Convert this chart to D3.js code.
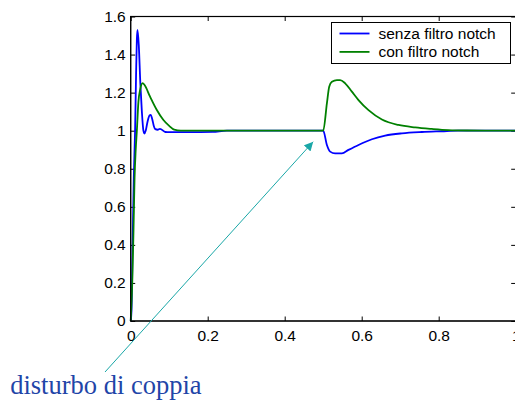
<!DOCTYPE html>
<html>
<head>
<meta charset="utf-8">
<script src="https://cdn.jsdelivr.net/npm/d3@7"></script>
<style>
  body { margin: 0; background: #fff; }
  svg { display: block; }
</style>
</head>
<body>
<div id="chart"></div>
<script>
// step response, senza filtro notch (blue)
const senzaT = [0, 0.002, 0.005, 0.008, 0.0114, 0.014, 0.016, 0.0177, 0.021, 0.025, 0.029, 0.033, 0.0357, 0.039, 0.044, 0.049, 0.052, 0.056, 0.06, 0.064, 0.07, 0.076, 0.09, 0.1, 0.15, 0.213, 0.25, 0.4, 0.5, 0.5096, 0.518, 0.531, 0.5486, 0.5657, 0.5917, 0.6265, 0.661, 0.7044, 0.7564, 0.808, 0.85, 1.0];
const senzaY = [0, 0.05, 0.4, 0.75, 1.0, 1.3, 1.48, 1.53, 1.45, 1.25, 1.1, 1.0, 0.985, 1.0, 1.05, 1.08, 1.083, 1.06, 1.025, 1.008, 1.005, 1.01, 0.993, 0.992, 0.992, 0.994, 1.0, 1.0, 1.0, 0.925, 0.89, 0.881, 0.881, 0.899, 0.925, 0.955, 0.974, 0.986, 0.993, 0.997, 1.0, 1.0];

// step response, con filtro notch (green)
const conT = [0, 0.004, 0.007, 0.01, 0.013, 0.016, 0.02, 0.025, 0.031, 0.036, 0.05, 0.0675, 0.085, 0.1, 0.113, 0.13, 0.2, 0.5, 0.5096, 0.5156, 0.5226, 0.5356, 0.544, 0.557, 0.5745, 0.5917, 0.6177, 0.6525, 0.6956, 0.739, 0.782, 0.825, 0.873, 1.0];
const conY = [0, 0.2, 0.45, 0.75, 0.9, 1.0, 1.15, 1.22, 1.25, 1.24, 1.18, 1.11, 1.056, 1.025, 1.005, 1.0, 1.0, 1.0, 1.144, 1.231, 1.257, 1.266, 1.266, 1.249, 1.205, 1.161, 1.108, 1.059, 1.03, 1.017, 1.009, 1.003, 1.001, 1.0];

const xTicks = [0, 0.2, 0.4, 0.6, 0.8, 1];
const yTicks = [0, 0.2, 0.4, 0.6, 0.8, 1, 1.2, 1.4, 1.6];
const seriesNames = ['senza filtro notch', 'con filtro notch'];
const seriesColors = ['#0000ff', '#008000'];

// annotation: arrow from label to the torque disturbance at t = 0.5
const noteText = 'disturbo di coppia';
const noteTail = [-0.0667, -0.268];
const noteTip = [0.474, 0.942];
const noteTextAt = [-0.313, -0.384];

const W = 515, H = 403;
const svg = d3.select('#chart').append('svg').attr('width', W).attr('height', H);

const x = d3.scaleLinear().domain([0, 1]).range([130.7, 515.7]);
const y = d3.scaleLinear().domain([0, 1.6]).range([321, 16.5]);

const fmt = d => String(+d.toFixed(1));
const font = 'Liberation Sans, Arial, sans-serif';

// box
svg.append('rect')
    .attr('x', x(0)).attr('y', y(1.6))
    .attr('width', x(1) - x(0)).attr('height', y(0) - y(1.6))
    .attr('fill', '#fff').attr('stroke', '#000').attr('stroke-width', 1);

// axes
const gx = svg.append('g')
    .attr('transform', `translate(0,${y(0)})`)
    .call(d3.axisBottom(x).tickValues(xTicks).tickFormat(fmt).tickSize(-4.5).tickPadding(9));
const gxTop = svg.append('g')
    .attr('transform', `translate(0,${y(1.6)})`)
    .call(d3.axisTop(x).tickValues(xTicks).tickFormat('').tickSize(-4.5));
const gy = svg.append('g')
    .attr('transform', `translate(${x(0)},0)`)
    .call(d3.axisLeft(y).tickValues(yTicks).tickFormat(fmt).tickSize(-4.5).tickPadding(5));
const gyRight = svg.append('g')
    .attr('transform', `translate(${x(1)},0)`)
    .call(d3.axisRight(y).tickValues(yTicks).tickFormat('').tickSize(-4.5));

[gx, gxTop, gy, gyRight].forEach(g => {
    g.select('.domain').remove();
    g.selectAll('line').attr('stroke', '#000');
    g.selectAll('text').attr('font-family', font).attr('font-size', 15.5).attr('fill', '#000');
});

// curves
const line = d3.line()
    .x(d => x(d[0]))
    .y(d => y(d[1]))
    .curve(d3.curveMonotoneX);

const senza = senzaT.map((t, i) => [t, senzaY[i]]);
const con = conT.map((t, i) => [t, conY[i]]);

svg.append('path').datum(senza)
    .attr('fill', 'none').attr('stroke', seriesColors[0]).attr('stroke-width', 1.8)
    .attr('d', line);
svg.append('path').datum(con)
    .attr('fill', 'none').attr('stroke', seriesColors[1]).attr('stroke-width', 1.8)
    .attr('d', line);

// box border redrawn on top
svg.append('rect')
    .attr('x', x(0)).attr('y', y(1.6))
    .attr('width', x(1) - x(0)).attr('height', y(0) - y(1.6))
    .attr('fill', 'none').attr('stroke', '#000').attr('stroke-width', 1.2);

// legend
const legend = svg.append('g').attr('transform', 'translate(331.5,22.5)');
legend.append('rect')
    .attr('width', 179).attr('height', 41)
    .attr('fill', '#fff').attr('stroke', '#000').attr('stroke-width', 1);
seriesNames.forEach((name, i) => {
    const ly = 11 + i * 18.4;
    legend.append('line')
        .attr('x1', 8).attr('x2', 38).attr('y1', ly).attr('y2', ly)
        .attr('stroke', seriesColors[i]).attr('stroke-width', 1.8);
    legend.append('text')
        .attr('x', 47).attr('y', ly).attr('dy', '0.35em')
        .attr('font-family', font).attr('font-size', 15.5)
        .text(name);
});

// annotation
svg.append('defs').append('marker')
    .attr('id', 'arrow')
    .attr('viewBox', '0 0 10 10')
    .attr('refX', 10).attr('refY', 5)
    .attr('markerWidth', 9).attr('markerHeight', 9)
    .attr('markerUnits', 'userSpaceOnUse')
    .attr('orient', 'auto')
    .append('path')
    .attr('d', 'M0,0 L10,5 L0,10 Z')
    .attr('fill', '#1aa7a7');

svg.append('line')
    .attr('x1', x(noteTail[0])).attr('y1', y(noteTail[1]))
    .attr('x2', x(noteTip[0])).attr('y2', y(noteTip[1]))
    .attr('stroke', '#1aa7a7').attr('stroke-width', 1)
    .attr('marker-end', 'url(#arrow)');

svg.append('text')
    .attr('x', x(noteTextAt[0])).attr('y', y(noteTextAt[1]))
    .attr('font-family', 'Liberation Serif, Times New Roman, serif')
    .attr('font-size', 26.5)
    .attr('fill', '#1f45a8')
    .text(noteText);
</script>
</body>
</html>
